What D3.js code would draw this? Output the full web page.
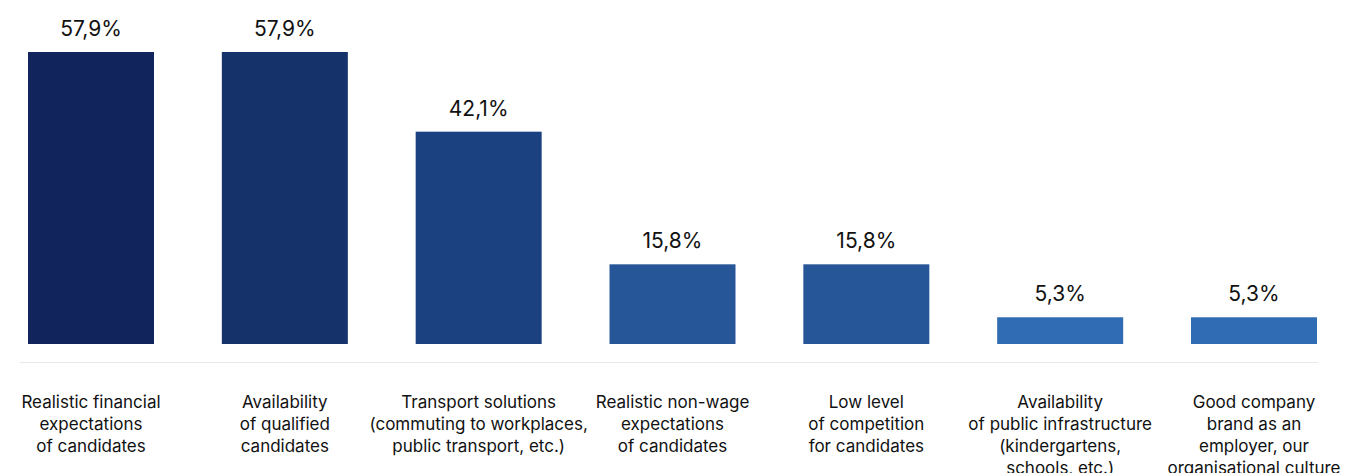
<!DOCTYPE html>
<html>
<head>
<meta charset="utf-8">
<script src="https://cdn.jsdelivr.net/npm/d3@7"></script>
<style>
  html, body { margin: 0; padding: 0; background: #ffffff; }
  svg { display: block; font-family: Inter, "Noto Sans", sans-serif; }
</style>
</head>
<body>
<svg id="chart" width="1360" height="473"></svg>
<script>
// Factors that make recruitment easier (% of responses)
const categories = [
  "Realistic financial\nexpectations\nof candidates",
  "Availability\nof qualified\ncandidates",
  "Transport solutions\n(commuting to workplaces,\npublic transport, etc.)",
  "Realistic non-wage\nexpectations\nof candidates",
  "Low level\nof competition\nfor candidates",
  "Availability\nof public infrastructure\n(kindergartens,\nschools, etc.)",
  "Good company\nbrand as an\nemployer, our\norganisational culture"
];
const values = [57.9, 57.9, 42.1, 15.8, 15.8, 5.3, 5.3];
const barColors = ["#11245c", "#15326b", "#1c4180", "#265598", "#265598", "#306cb4", "#306cb4"];

const svg = d3.select("#chart");
const baselineY = 344;

const x = d3.scaleBand()
  .domain(categories)
  .range([28, 1317])
  .paddingInner(0.35)
  .paddingOuter(0);

const y = d3.scaleLinear()
  .domain([0, d3.max(values)])
  .range([baselineY, 52]);

const fmt = d3.formatLocale({ decimal: ",", thousands: " ", grouping: [3], currency: ["", ""] }).format(".1f");

const data = categories.map((c, i) => ({ c, v: values[i], color: barColors[i] }));

// light rule under the bars
svg.append("line")
  .attr("x1", 20).attr("x2", x.range()[1] + 1)
  .attr("y1", 362.5).attr("y2", 362.5)
  .attr("stroke", "#e8e8e8").attr("stroke-width", 1);

// bars
svg.append("g").selectAll("rect")
  .data(data)
  .join("rect")
  .attr("x", d => x(d.c))
  .attr("y", d => y(d.v))
  .attr("width", x.bandwidth())
  .attr("height", d => y(0) - y(d.v))
  .attr("fill", d => d.color);

// value labels
svg.append("g").selectAll("text")
  .data(data)
  .join("text")
  .attr("x", d => x(d.c) + x.bandwidth() / 2)
  .attr("y", d => y(d.v) - 16)
  .attr("text-anchor", "middle")
  .attr("font-size", 21)
  .attr("fill", "#111111")
  .text(d => fmt(d.v) + "%");

// category labels, one tspan per line
const cat = svg.append("g").selectAll("text")
  .data(data)
  .join("text")
  .attr("text-anchor", "middle")
  .attr("font-size", 17)
  .attr("fill", "#111111");

cat.each(function(d) {
  const t = d3.select(this);
  d.c.split("\n").forEach((line, k) => {
    t.append("tspan")
      .attr("x", x(d.c) + x.bandwidth() / 2)
      .attr("y", 408 + k * 22)
      .text(line);
  });
});
</script>
</body>
</html>
